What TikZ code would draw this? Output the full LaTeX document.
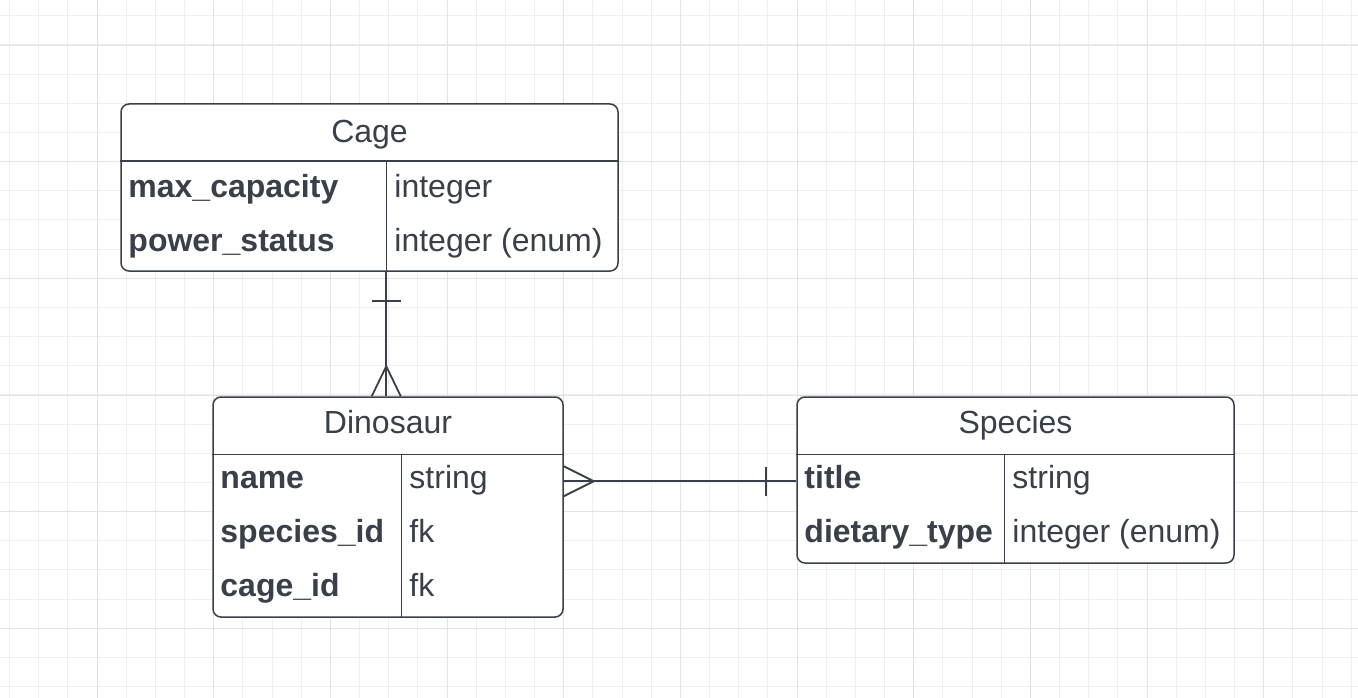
\documentclass[tikz,border=0pt]{standalone}
\usepackage{fontspec}
\setmainfont{Liberation Sans}
\usetikzlibrary{calc}
\definecolor{ink}{HTML}{3A4049}
\definecolor{gridminor}{HTML}{EFEFEF}
\definecolor{gridmajor}{HTML}{E2E2E2}
\begin{document}
\begin{tikzpicture}[x=1pt,y=-1pt,
  entity/.style={draw=ink,line width=1.5pt,rounded corners=8pt,fill=white,inner sep=0pt,rectangle},
  sep/.style={draw=ink,line width=1.5pt},
  hdr/.style={text=ink,font=\fontsize{32}{38}\selectfont,anchor=base,inner sep=0pt},
  fld/.style={text=ink,font=\fontsize{32}{38}\selectfont\bfseries,anchor=base west,inner sep=0pt},
  typ/.style={text=ink,font=\fontsize{32}{38}\selectfont,anchor=base west,inner sep=0pt},
  rel/.style={draw=ink,line width=1.8pt}]
\useasboundingbox (0,0) rectangle (1358,698);
\fill[white] (0,0) rectangle (1358,698);
% grid
\foreach \i in {0,...,46} \draw[gridminor,line width=1pt] ({9.5+29.1667*\i},0) -- ++(0,698);
\foreach \i in {0,...,23} \draw[gridminor,line width=1pt] (0,{15.8+29.1667*\i}) -- ++(1358,0);
\foreach \i in {0,...,10} \draw[gridmajor,line width=1pt] ({97+116.667*\i},0) -- ++(0,698);
\foreach \i in {0,...,5} \draw[gridmajor,line width=1pt] (0,{45.3+116.667*\i}) -- ++(1358,0);

% Cage
\node[entity,minimum width=497pt,minimum height=167pt] (cage) at (369.5,187.5) {};
\draw[sep] ($(cage.north west)+(0,58)$) -- ($(cage.north east)+(0,58)$);
\draw[sep] ($(cage.north west)+(266,58)$) -- ($(cage.south west)+(266,0)$);
\node[hdr] (cageT) at ($(cage.north)+(0,39)$) {Cage};
\node[fld] (cageF1) at ($(cage.north west)+(8,94)$) {max\_capacity};
\node[fld] (cageF2) at ($(cage.north west)+(8,148)$) {power\_status};
\node[typ] (cageV1) at ($(cage.north west)+(274,94)$) {integer};
\node[typ] (cageV2) at ($(cage.north west)+(274,148)$) {integer (enum)};

% Dinosaur
\node[entity,minimum width=350pt,minimum height=220pt] (dino) at (388,507) {};
\draw[sep] ($(dino.north west)+(0,58)$) -- ($(dino.north east)+(0,58)$);
\draw[sep] ($(dino.north west)+(189,58)$) -- ($(dino.south west)+(189,0)$);
\node[hdr] (dinoT) at ($(dino.north)+(0,37)$) {Dinosaur};
\node[fld] (dinoF1) at ($(dino.north west)+(8,92)$) {name};
\node[fld] (dinoF2) at ($(dino.north west)+(8,146)$) {species\_id};
\node[fld] (dinoF3) at ($(dino.north west)+(8,200)$) {cage\_id};
\node[typ] (dinoV1) at ($(dino.north west)+(197,92)$) {string};
\node[typ] (dinoV2) at ($(dino.north west)+(197,146)$) {fk};
\node[typ] (dinoV3) at ($(dino.north west)+(197,200)$) {fk};

% Species
\node[entity,minimum width=437pt,minimum height=166pt] (spec) at (1015.5,480) {};
\draw[sep] ($(spec.north west)+(0,58)$) -- ($(spec.north east)+(0,58)$);
\draw[sep] ($(spec.north west)+(208,58)$) -- ($(spec.south west)+(208,0)$);
\node[hdr] (specT) at ($(spec.north)+(0,37)$) {Species};
\node[fld] (specF1) at ($(spec.north west)+(8,92)$) {title};
\node[fld] (specF2) at ($(spec.north west)+(8,146)$) {dietary\_type};
\node[typ] (specV1) at ($(spec.north west)+(216,92)$) {string};
\node[typ] (specV2) at ($(spec.north west)+(216,146)$) {integer (enum)};

% Cage -- Dinosaur (one to many)
\coordinate (cS) at ($(cage.south west)+(266,0)$);
\coordinate (dN) at (dino.north -| cS);
\draw[rel] (cS) -- (dN);
\draw[rel] ($(cS)+(-14.5,29)$) -- ++(29,0);
\draw[rel] ($(dN)+(-14.5,0)$) -- ($(dN)+(0,-30)$) -- ($(dN)+(14.5,0)$);

% Dinosaur -- Species (many to one)
\coordinate (dE) at ($(dino.north east)+(0,85)$);
\coordinate (sW) at (dE -| spec.west);
\draw[rel] (dE) -- (sW);
\draw[rel] ($(dE)+(0,-15)$) -- ($(dE)+(30,0)$) -- ($(dE)+(0,15)$);
\draw[rel] ($(sW)+(-30,-14.5)$) -- ++(0,29);
\end{tikzpicture}
\end{document}
